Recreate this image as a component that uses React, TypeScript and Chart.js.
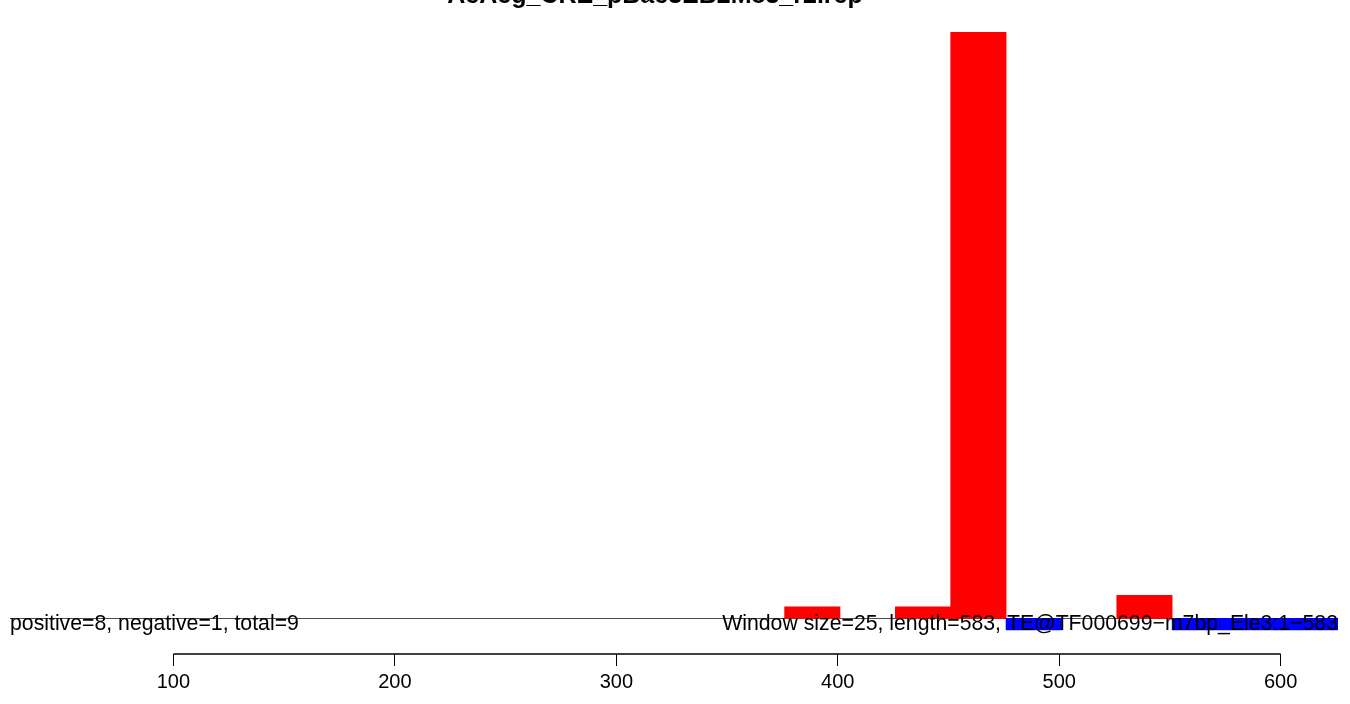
import React, { useEffect, useRef } from "react";
import { Chart, registerables } from "chart.js";

Chart.register(...registerables);

const chartTitle = "AcAeg_CRE_pBac3EB2M83_r2.rep";
const leftNote = "positive=8, negative=1, total=9";
const rightNote = "Window size=25, length=583, TE@TF000699\u2212m7bp_Ele3:1\u2212583";
const windowSize = 25;
const windowStarts = [376, 426, 451, 476, 526, 551, 576, 601];
const windowCounts = [1, 1, 51, -1, 2, -1, -1, -1];
const xTickValues = [100, 200, 300, 400, 500, 600];
const xRange = [26.2, 625.9];
const yRange = [-3.1, 51];

const FONT = '"Liberation Sans", Arial, Helvetica, sans-serif';

const decorPlugin = {
  id: "decor",
  beforeDatasetsDraw(chart: any) {
    const { ctx, chartArea, scales } = chart;
    const y0 = Math.round(scales.y.getPixelForValue(0)) + 0.5;
    ctx.save();
    ctx.strokeStyle = "#4d4d4d";
    ctx.lineWidth = 1;
    ctx.beginPath();
    ctx.moveTo(chartArea.left, y0);
    ctx.lineTo(chartArea.right, y0);
    ctx.stroke();
    const xa = scales.x;
    const ya = chartArea.bottom;
    ctx.strokeStyle = "#000";
    ctx.lineWidth = 1.5;
    ctx.beginPath();
    ctx.moveTo(xa.getPixelForValue(xTickValues[0]), ya);
    ctx.lineTo(xa.getPixelForValue(xTickValues[xTickValues.length - 1]), ya);
    ctx.stroke();
    ctx.restore();
  },
  afterDatasetsDraw(chart: any) {
    const { ctx, chartArea, scales } = chart;
    const yb = scales.y.getPixelForValue(-1);
    ctx.save();
    ctx.fillStyle = "#000";
    ctx.font = `21.25px ${FONT}`;
    ctx.textBaseline = "alphabetic";
    ctx.textAlign = "left";
    ctx.fillText(leftNote, chartArea.left, yb);
    ctx.textAlign = "right";
    ctx.fillText(rightNote, chartArea.right, yb);
    ctx.font = `bold 25px ${FONT}`;
    ctx.textAlign = "center";
    ctx.fillText(chartTitle, 655, 3);
    ctx.restore();
  },
};

export default function App() {
  const ref = useRef<HTMLCanvasElement>(null);
  useEffect(() => {
    if (!ref.current) return;
    const data = windowStarts.map((s, i) => ({ x: s + windowSize / 2, y: windowCounts[i] }));
    const colors = windowCounts.map((v) => (v >= 0 ? "#FF0000" : "#0000FF"));
    const chart = new Chart(ref.current, {
      type: "bar",
      data: {
        datasets: [
          {
            data,
            backgroundColor: colors,
            borderWidth: 0,
            barPercentage: 1,
            categoryPercentage: 1,
          } as any,
        ],
      },
      options: {
        responsive: false,
        animation: false,
        events: [],
        layout: { padding: { left: 10, right: 12, top: 32, bottom: 0 } },
        plugins: { legend: { display: false }, tooltip: { enabled: false }, title: { display: false } },
        scales: {
          x: {
            type: "linear",
            min: xRange[0],
            max: xRange[1],
            offset: false,
            position: "bottom",
            border: { display: false },
            grid: {
              offset: false,
              drawOnChartArea: false,
              drawTicks: true,
              tickLength: 12,
              color: "#000",
              lineWidth: 1,
            },
            ticks: {
              color: "#000",
              font: { family: FONT, size: 20 },
              padding: 4,
              autoSkip: false,
              maxRotation: 0,
              minRotation: 0,
            },
            afterBuildTicks: (scale: any) => {
              scale.ticks = xTickValues.map((v) => ({ value: v }));
            },
            afterFit: (scale: any) => {
              scale.height = 50;
            },
          },
          y: {
            display: false,
            min: yRange[0],
            max: yRange[1],
          },
        },
      } as any,
      plugins: [decorPlugin],
    });
    return () => chart.destroy();
  }, []);
  return (
    <div style={{ position: "absolute", left: 0, top: 0, width: 1350, height: 704, background: "#fff" }}>
      <canvas ref={ref} width={1350} height={704} style={{ display: "block" }} />
    </div>
  );
}
